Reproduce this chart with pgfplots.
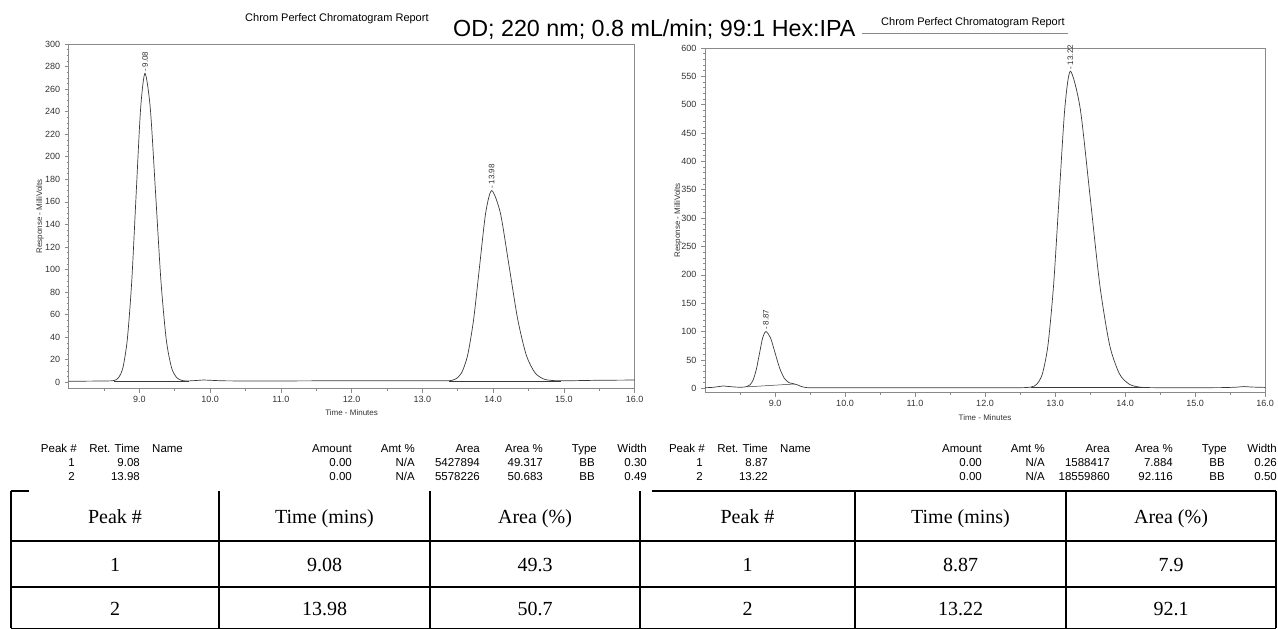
\documentclass[border=0pt]{standalone}
\usepackage{fontspec}
\setmainfont{Liberation Sans}
\newfontfamily\seriffont{Liberation Serif}
\usepackage{pgfplots}
\pgfplotsset{compat=1.18}

\definecolor{trace}{HTML}{3A3A3A}
\definecolor{frame}{HTML}{8A8A8A}
\definecolor{labeltext}{HTML}{333333}

\newcommand\tickfont{\fontsize{9}{10}\selectfont}
\newcommand\smallfont{\fontsize{8}{9}\selectfont}
\newcommand\rowfont{\fontsize{11.5}{13}\selectfont}
\newcommand\cellfont{\seriffont\fontsize{20}{24}\selectfont}

\tikzset{
  peaklabel/.style={rotate=90, anchor=west, font=\smallfont, text=labeltext, inner sep=2pt},
}

\pgfplotsset{
  chrom/.style={
    scale only axis,
    xmin=8, xmax=16,
    axis line style={frame, line width=0.7pt},
    tick align=outside,
    tick pos=left,
    major tick length=4pt,
    minor tick length=2pt,
    every tick/.style={frame, line width=0.6pt},
    xtick={9,...,16},
    minor xtick={8.5,9.5,...,15.5},
    /pgf/number format/assume math mode=true,
    xticklabel style={/pgf/number format/.cd, fixed, fixed zerofill, precision=1, /tikz/.cd, font=\tickfont, text=labeltext},
    yticklabel style={font=\tickfont, text=labeltext, xshift=-1pt},
    xlabel={Time - Minutes},
    ylabel={Response - MilliVolts},
    xlabel style={at={(axis description cs:0.5,0)}, anchor=center, yshift=-24.5pt, font=\smallfont, text=labeltext},
    label style={font=\smallfont, text=labeltext},
    clip=false,
  },
  signal/.style={trace, line width=0.7pt, smooth, tension=0.45, no markers},
  base/.style={trace, line width=0.5pt, no markers},
}

\begin{document}
\begin{tikzpicture}
\path[use as bounding box] (0pt,0pt) rectangle (1278pt,-629pt);

% ---------- racemic run ----------
\begin{axis}[chrom,
  at={(68.6pt,-388.5pt)}, anchor=south west,
  width=566pt, height=344.5pt,
  ymin=-5.5, ymax=300,
  ytick={0,20,...,300}, minor y tick num=3,
  ylabel style={at={(axis description cs:-0.0504,0.5)}, anchor=center},
]
\addplot[signal] coordinates {
 (8.0,1.0) (8.2,1.0) (8.4,1.1) (8.55,1.2) (8.643,1.6) (8.705,4.0) (8.768,13.0)
 (8.83,38.1) (8.893,90.0) (8.955,167.2) (9.018,242.8) (9.08,274) (9.155,242.8)
 (9.23,167.2) (9.305,90.0) (9.38,38.1) (9.455,13.0) (9.53,4.0) (9.605,1.6)
 (9.68,1.2) (9.8,1.6) (9.9,2.0) (10.0,1.8) (10.2,1.3) (10.6,1.2) (11.0,1.2)
 (11.5,1.3) (12.0,1.4) (12.5,1.3) (13.0,1.3) (13.3,1.4) (13.383,1.4) (13.47,2.9)
 (13.555,8.4) (13.64,23.9) (13.725,55.9) (13.81,103.5) (13.895,150.1) (13.98,170)
 (14.103,150.1) (14.225,103.5) (14.348,55.9) (14.47,23.9) (14.593,8.4)
 (14.715,2.9) (14.838,1.6) (14.96,1.3) (15.2,1.5) (15.5,1.8) (16.0,2.0)
};
\addplot[base] coordinates {(8.64,1.2) (9.70,1.2)};
\addplot[base] coordinates {(13.38,1.3) (14.96,1.3)};
\node[peaklabel] at (axis cs:9.08,274) {-\,9.08};
\node[peaklabel] at (axis cs:13.98,170) {-\,13.98};
\end{axis}

% ---------- enriched run ----------
\begin{axis}[chrom,
  at={(705pt,-392.8pt)}, anchor=south west,
  width=560pt, height=344.8pt,
  ymin=-8, ymax=600,
  ytick={0,50,...,600}, minor y tick num=4,
  ylabel style={at={(axis description cs:-0.0482,0.5)}, anchor=center},
]
\addplot[signal] coordinates {
 (8.0,1.0) (8.1,1.5) (8.2,3.0) (8.26,4.0) (8.33,3.2) (8.45,2.0) (8.55,2.0)
 (8.6,3.1) (8.645,6.3) (8.69,15.3) (8.735,34.3) (8.78,62.4) (8.825,89.5)
 (8.87,100) (8.935,89.1) (9.0,62.8) (9.065,36.0) (9.13,18.1) (9.195,10.3)
 (9.26,8.1) (9.32,6.0) (9.38,3.0) (9.45,1.2) (9.6,0.8) (10.0,0.8) (10.5,1.0)
 (11.0,0.9) (11.5,1.0) (12.0,1.0) (12.5,1.0) (12.66,2.2) (12.74,7.2) (12.82,25.5)
 (12.90,76.5) (12.98,182.2) (13.06,339.4) (13.14,493.4) (13.22,559) (13.36,493.4)
 (13.50,339.4) (13.64,182.2) (13.78,76.5) (13.92,25.5) (14.06,7.2) (14.20,2.2)
 (14.34,1.2) (14.6,1.0) (15.0,1.0) (15.4,1.2) (15.6,2.0) (15.7,3.0) (15.8,2.2)
 (16.0,1.5)
};
\addplot[base] coordinates {(8.60,2.5) (9.28,7.5)};
\addplot[base] coordinates {(12.66,1.5) (14.35,1.5)};
\node[peaklabel] at (axis cs:8.87,100) {-\,8.87};
\node[peaklabel] at (axis cs:13.22,559) {-\,13.22};
\end{axis}

% ---------- headings ----------
\node[anchor=base west, inner sep=0pt, font=\fontsize{11}{13}\selectfont] at (245pt,-21pt) {Chrom Perfect Chromatogram Report};
\draw[frame, line width=0.6pt] (862pt,-33pt) -- (1068pt,-33pt);
\node[anchor=base west, inner sep=0pt, font=\fontsize{11}{13}\selectfont, fill=white, inner ysep=1pt] at (881pt,-25pt) {Chrom Perfect Chromatogram Report};
\node[anchor=base west, inner sep=0pt, font=\fontsize{23.3}{28}\selectfont] at (453pt,-36pt) {OD; 220 nm; 0.8 mL/min; 99:1 Hex:IPA};

% ---------- peak reports ----------
\begin{scope}[every node/.style={inner sep=0pt, font=\rowfont, text=black}]
% left report
\node[anchor=base east] at (77pt,-452pt) {Peak \#};
\node[anchor=base east] at (140pt,-452pt) {Ret. Time};
\node[anchor=base west] at (152pt,-452pt) {Name};
\node[anchor=base east] at (352pt,-452pt) {Amount};
\node[anchor=base east] at (415pt,-452pt) {Amt \%};
\node[anchor=base east] at (480pt,-452pt) {Area};
\node[anchor=base east] at (543pt,-452pt) {Area \%};
\node[anchor=base east] at (597pt,-452pt) {Type};
\node[anchor=base east] at (647pt,-452pt) {Width};
\node[anchor=base east] at (75pt,-466pt) {1};
\node[anchor=base east] at (140pt,-466pt) {9.08};
\node[anchor=base east] at (352pt,-466pt) {0.00};
\node[anchor=base east] at (415pt,-466pt) {N/A};
\node[anchor=base east] at (480pt,-466pt) {5427894};
\node[anchor=base east] at (543pt,-466pt) {49.317};
\node[anchor=base east] at (595pt,-466pt) {BB};
\node[anchor=base east] at (647pt,-466pt) {0.30};
\node[anchor=base east] at (75pt,-480pt) {2};
\node[anchor=base east] at (140pt,-480pt) {13.98};
\node[anchor=base east] at (352pt,-480pt) {0.00};
\node[anchor=base east] at (415pt,-480pt) {N/A};
\node[anchor=base east] at (480pt,-480pt) {5578226};
\node[anchor=base east] at (543pt,-480pt) {50.683};
\node[anchor=base east] at (595pt,-480pt) {BB};
\node[anchor=base east] at (647pt,-480pt) {0.49};
% right report
\node[anchor=base east] at (705pt,-452pt) {Peak \#};
\node[anchor=base east] at (768pt,-452pt) {Ret. Time};
\node[anchor=base west] at (780pt,-452pt) {Name};
\node[anchor=base east] at (982pt,-452pt) {Amount};
\node[anchor=base east] at (1045pt,-452pt) {Amt \%};
\node[anchor=base east] at (1110pt,-452pt) {Area};
\node[anchor=base east] at (1173pt,-452pt) {Area \%};
\node[anchor=base east] at (1227pt,-452pt) {Type};
\node[anchor=base east] at (1277pt,-452pt) {Width};
\node[anchor=base east] at (703pt,-466pt) {1};
\node[anchor=base east] at (768pt,-466pt) {8.87};
\node[anchor=base east] at (982pt,-466pt) {0.00};
\node[anchor=base east] at (1045pt,-466pt) {N/A};
\node[anchor=base east] at (1110pt,-466pt) {1588417};
\node[anchor=base east] at (1173pt,-466pt) {7.884};
\node[anchor=base east] at (1225pt,-466pt) {BB};
\node[anchor=base east] at (1277pt,-466pt) {0.26};
\node[anchor=base east] at (703pt,-480pt) {2};
\node[anchor=base east] at (768pt,-480pt) {13.22};
\node[anchor=base east] at (982pt,-480pt) {0.00};
\node[anchor=base east] at (1045pt,-480pt) {N/A};
\node[anchor=base east] at (1110pt,-480pt) {18559860};
\node[anchor=base east] at (1173pt,-480pt) {92.116};
\node[anchor=base east] at (1225pt,-480pt) {BB};
\node[anchor=base east] at (1277pt,-480pt) {0.50};
\end{scope}

% ---------- summary table ----------
\begin{scope}[line width=1.3pt, black]
\draw (11pt,-491pt) -- (29pt,-491pt);
\draw (652pt,-491pt) -- (1276pt,-491pt);
\draw (11pt,-541pt) -- (1276pt,-541pt);
\draw (11pt,-587pt) -- (1276pt,-587pt);
\draw (11pt,-628.3pt) -- (1276pt,-628.3pt);
\foreach \cx in {11,219,430,640,855,1066,1276}
  \draw (\cx pt,-491pt) -- (\cx pt,-628.3pt);
\end{scope}
\begin{scope}[every node/.style={inner sep=0pt, font=\cellfont, anchor=base}]
\node at (115pt,-523pt) {Peak \#};
\node at (324.5pt,-523pt) {Time (mins)};
\node at (535pt,-523pt) {Area (\%)};
\node at (747.5pt,-523pt) {Peak \#};
\node at (960.5pt,-523pt) {Time (mins)};
\node at (1171pt,-523pt) {Area (\%)};
\node at (115pt,-571pt) {1};
\node at (324.5pt,-571pt) {9.08};
\node at (535pt,-571pt) {49.3};
\node at (747.5pt,-571pt) {1};
\node at (960.5pt,-571pt) {8.87};
\node at (1171pt,-571pt) {7.9};
\node at (115pt,-615pt) {2};
\node at (324.5pt,-615pt) {13.98};
\node at (535pt,-615pt) {50.7};
\node at (747.5pt,-615pt) {2};
\node at (960.5pt,-615pt) {13.22};
\node at (1171pt,-615pt) {92.1};
\end{scope}
\end{tikzpicture}
\end{document}
